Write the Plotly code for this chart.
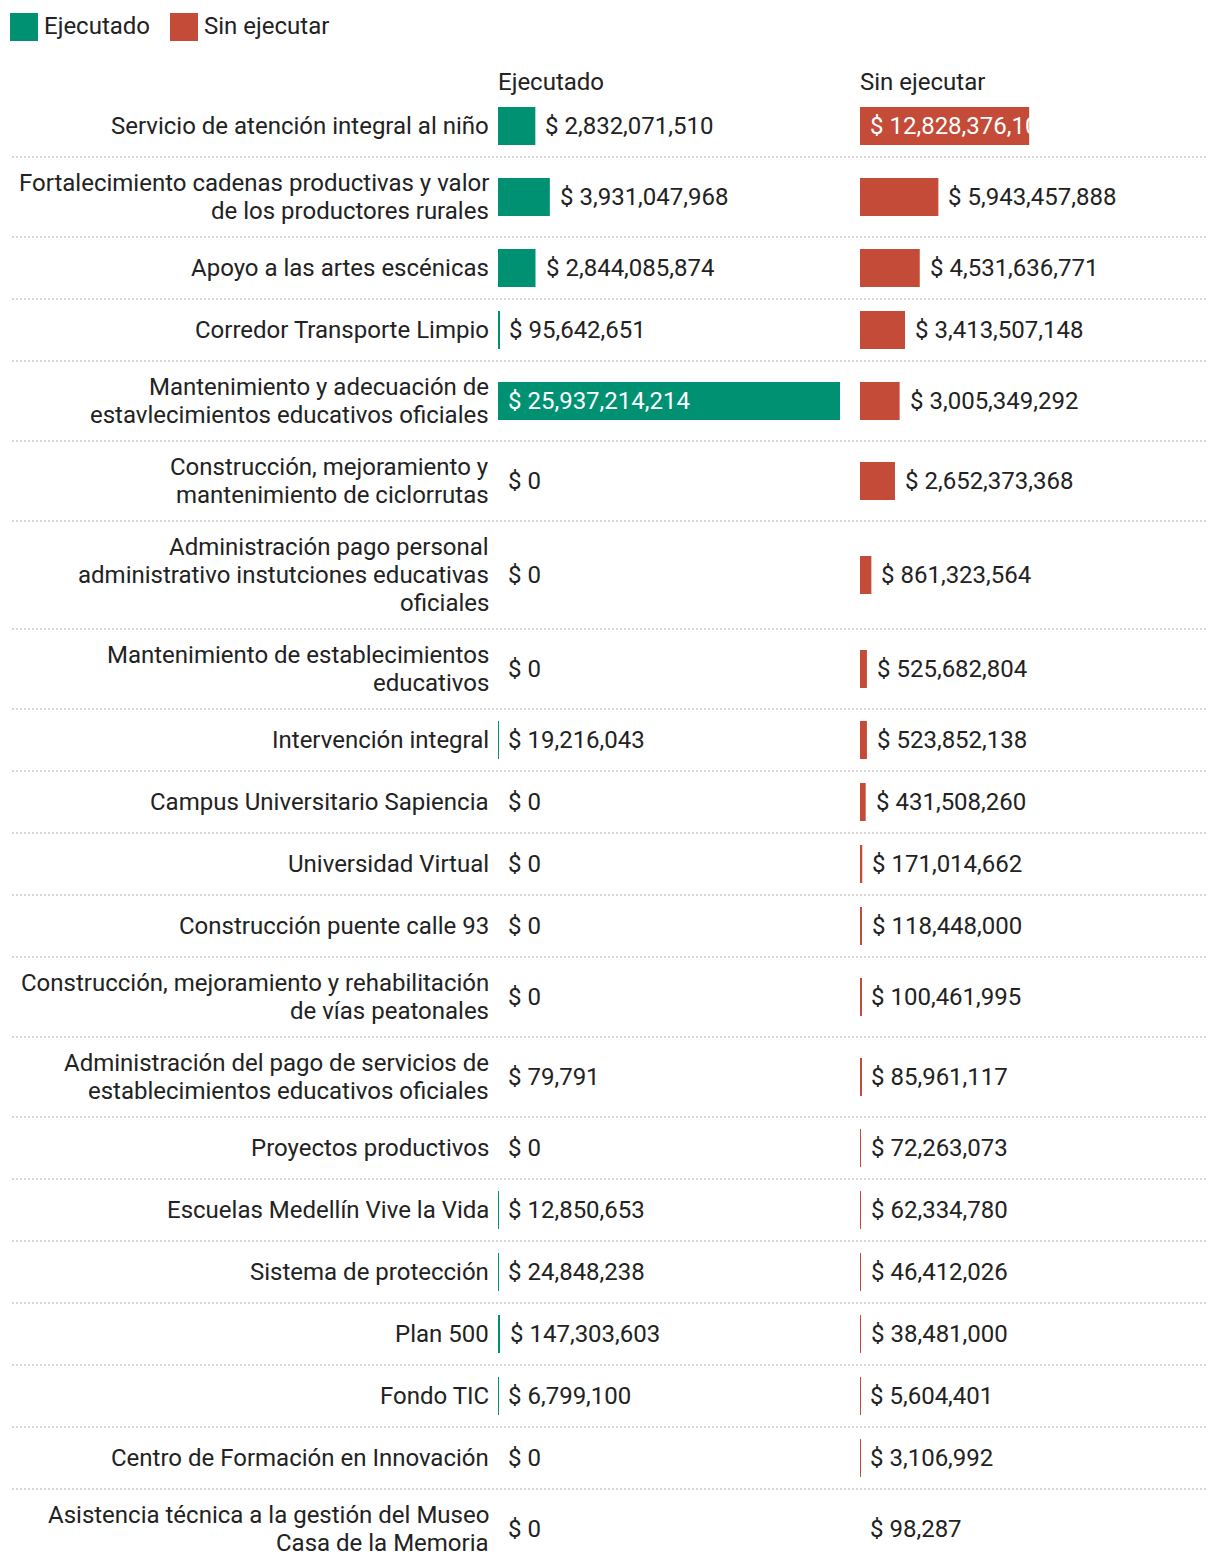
import plotly.graph_objects as go

# ---------------- data ----------------
categories = [
    "Servicio de atención integral al niño",
    "Fortalecimiento cadenas productivas y valor<br>de los productores rurales",
    "Apoyo a las artes escénicas",
    "Corredor Transporte Limpio",
    "Mantenimiento y adecuación de<br>estavlecimientos educativos oficiales",
    "Construcción, mejoramiento y<br>mantenimiento de ciclorrutas",
    "Administración pago personal<br>administrativo instutciones educativas<br>oficiales",
    "Mantenimiento de establecimientos<br>educativos",
    "Intervención integral",
    "Campus Universitario Sapiencia",
    "Universidad Virtual",
    "Construcción puente calle 93",
    "Construcción, mejoramiento y rehabilitación<br>de vías peatonales",
    "Administración del pago de servicios de<br>establecimientos educativos oficiales",
    "Proyectos productivos",
    "Escuelas Medellín Vive la Vida",
    "Sistema de protección",
    "Plan 500",
    "Fondo TIC",
    "Centro de Formación en Innovación",
    "Asistencia técnica a la gestión del Museo<br>Casa de la Memoria",
]
ejecutado = [
    2832071510, 3931047968, 2844085874, 95642651, 25937214214, 0, 0, 0,
    19216043, 0, 0, 0, 0, 79791, 0, 12850653, 24848238, 147303603,
    6799100, 0, 0,
]
sin_ejecutar = [
    12828376102, 5943457888, 4531636771, 3413507148, 3005349292, 2652373368,
    861323564, 525682804, 523852138, 431508260, 171014662, 118448000,
    100461995, 85961117, 72263073, 62334780, 46412026, 38481000,
    5604401, 3106992, 98287,
]
series_names = ["Ejecutado", "Sin ejecutar"]

# ---------------- style ----------------
W, H = 1220, 1566
FONT = "Roboto"
FS = 24
TXT = "#222222"
GREEN = "#009173"
RED = "#c44b38"
LINE_H = 28
BAR_H = 38
PAD = 24
TOP = 95
LABEL_RIGHT = 490.5
LEFT_DOM = (498, 840)
RIGHT_DOM = (860, 1202)

# row layout from the number of label lines
heights = [max(BAR_H, LINE_H * (c.count("<br>") + 1)) + PAD for c in categories]
centers, bounds = [], []
pos = TOP
for h in heights:
    centers.append(pos + h / 2)
    pos += h
    bounds.append(pos)

vmax = max(ejecutado)

fig = go.Figure()
fig.add_trace(go.Bar(x=ejecutado, y=centers, orientation="h", width=BAR_H,
                     marker=dict(color=GREEN, line=dict(width=0)),
                     xaxis="x", yaxis="y", name=series_names[0],
                     showlegend=False, hoverinfo="skip"))
fig.add_trace(go.Bar(x=sin_ejecutar, y=centers, orientation="h", width=BAR_H,
                     marker=dict(color=RED, line=dict(width=0)),
                     xaxis="x2", yaxis="y", name=series_names[1],
                     showlegend=False, hoverinfo="skip"))

ann = []
shapes = []


def fmt(v):
    return "$ " + f"{v:,}"


# category labels (one annotation per line for a 28px line pitch)
for c, yc in zip(categories, centers):
    lines = c.split("<br>")
    n = len(lines)
    for i, ln in enumerate(lines):
        ann.append(dict(text=ln, x=LABEL_RIGHT / W, xref="paper",
                        xanchor="right", align="right",
                        y=yc + (i - (n - 1) / 2) * LINE_H, yref="y",
                        yanchor="middle", showarrow=False,
                        font=dict(family=FONT, size=FS, color=TXT)))

# value labels
for vals, xr in ((ejecutado, "x"), (sin_ejecutar, "x2")):
    for v, yc in zip(vals, centers):
        inside = v / vmax > 0.4
        ann.append(dict(text=fmt(v), x=0 if inside else v, xref=xr,
                        xanchor="left", xshift=8, y=yc, yref="y",
                        yanchor="middle", showarrow=False,
                        font=dict(family=FONT, size=FS,
                                  color="#ffffff" if inside else TXT)))

# column headers
for name, xr in zip(series_names, ("x domain", "x2 domain")):
    ann.append(dict(text=name, x=0, xref=xr, xanchor="left", xshift=-2,
                    y=82, yref="y", yanchor="middle", showarrow=False,
                    font=dict(family=FONT, size=FS, color=TXT)))

# separators
for b in bounds[:-1]:
    shapes.append(dict(type="line", xref="paper", yref="y", x0=12 / W,
                       x1=1208 / W, y0=b, y1=b,
                       line=dict(color="#cccccc", width=1.5, dash="2px,2px")))

# legend
legend_items = [(series_names[0], GREEN, 10), (series_names[1], RED, 170)]
for name, col, lx in legend_items:
    shapes.append(dict(type="rect", xref="paper", yref="y", x0=lx / W,
                       x1=(lx + 28) / W, y0=13, y1=41, fillcolor=col,
                       line=dict(width=0)))
    ann.append(dict(text=name, x=(lx + 32) / W, xref="paper", xanchor="left",
                    y=26, yref="y", yanchor="middle", showarrow=False,
                    font=dict(family=FONT, size=FS, color=TXT)))

fig.update_layout(
    width=W, height=H,
    margin=dict(l=0, r=0, t=0, b=0),
    paper_bgcolor="white", plot_bgcolor="white",
    barmode="overlay",
    xaxis=dict(domain=[LEFT_DOM[0] / W, LEFT_DOM[1] / W], range=[0, vmax],
               visible=False, fixedrange=True),
    xaxis2=dict(domain=[RIGHT_DOM[0] / W, RIGHT_DOM[1] / W], range=[0, vmax],
                visible=False, anchor="y", fixedrange=True),
    yaxis=dict(domain=[0, 1], range=[H, 0], visible=False, fixedrange=True),
    annotations=ann, shapes=shapes,
    font=dict(family=FONT, size=FS, color=TXT),
)

fig.write_html("out.html", config={"displayModeBar": False},
               post_script="document.body.style.margin='0';document.body.style.overflow='hidden';")
